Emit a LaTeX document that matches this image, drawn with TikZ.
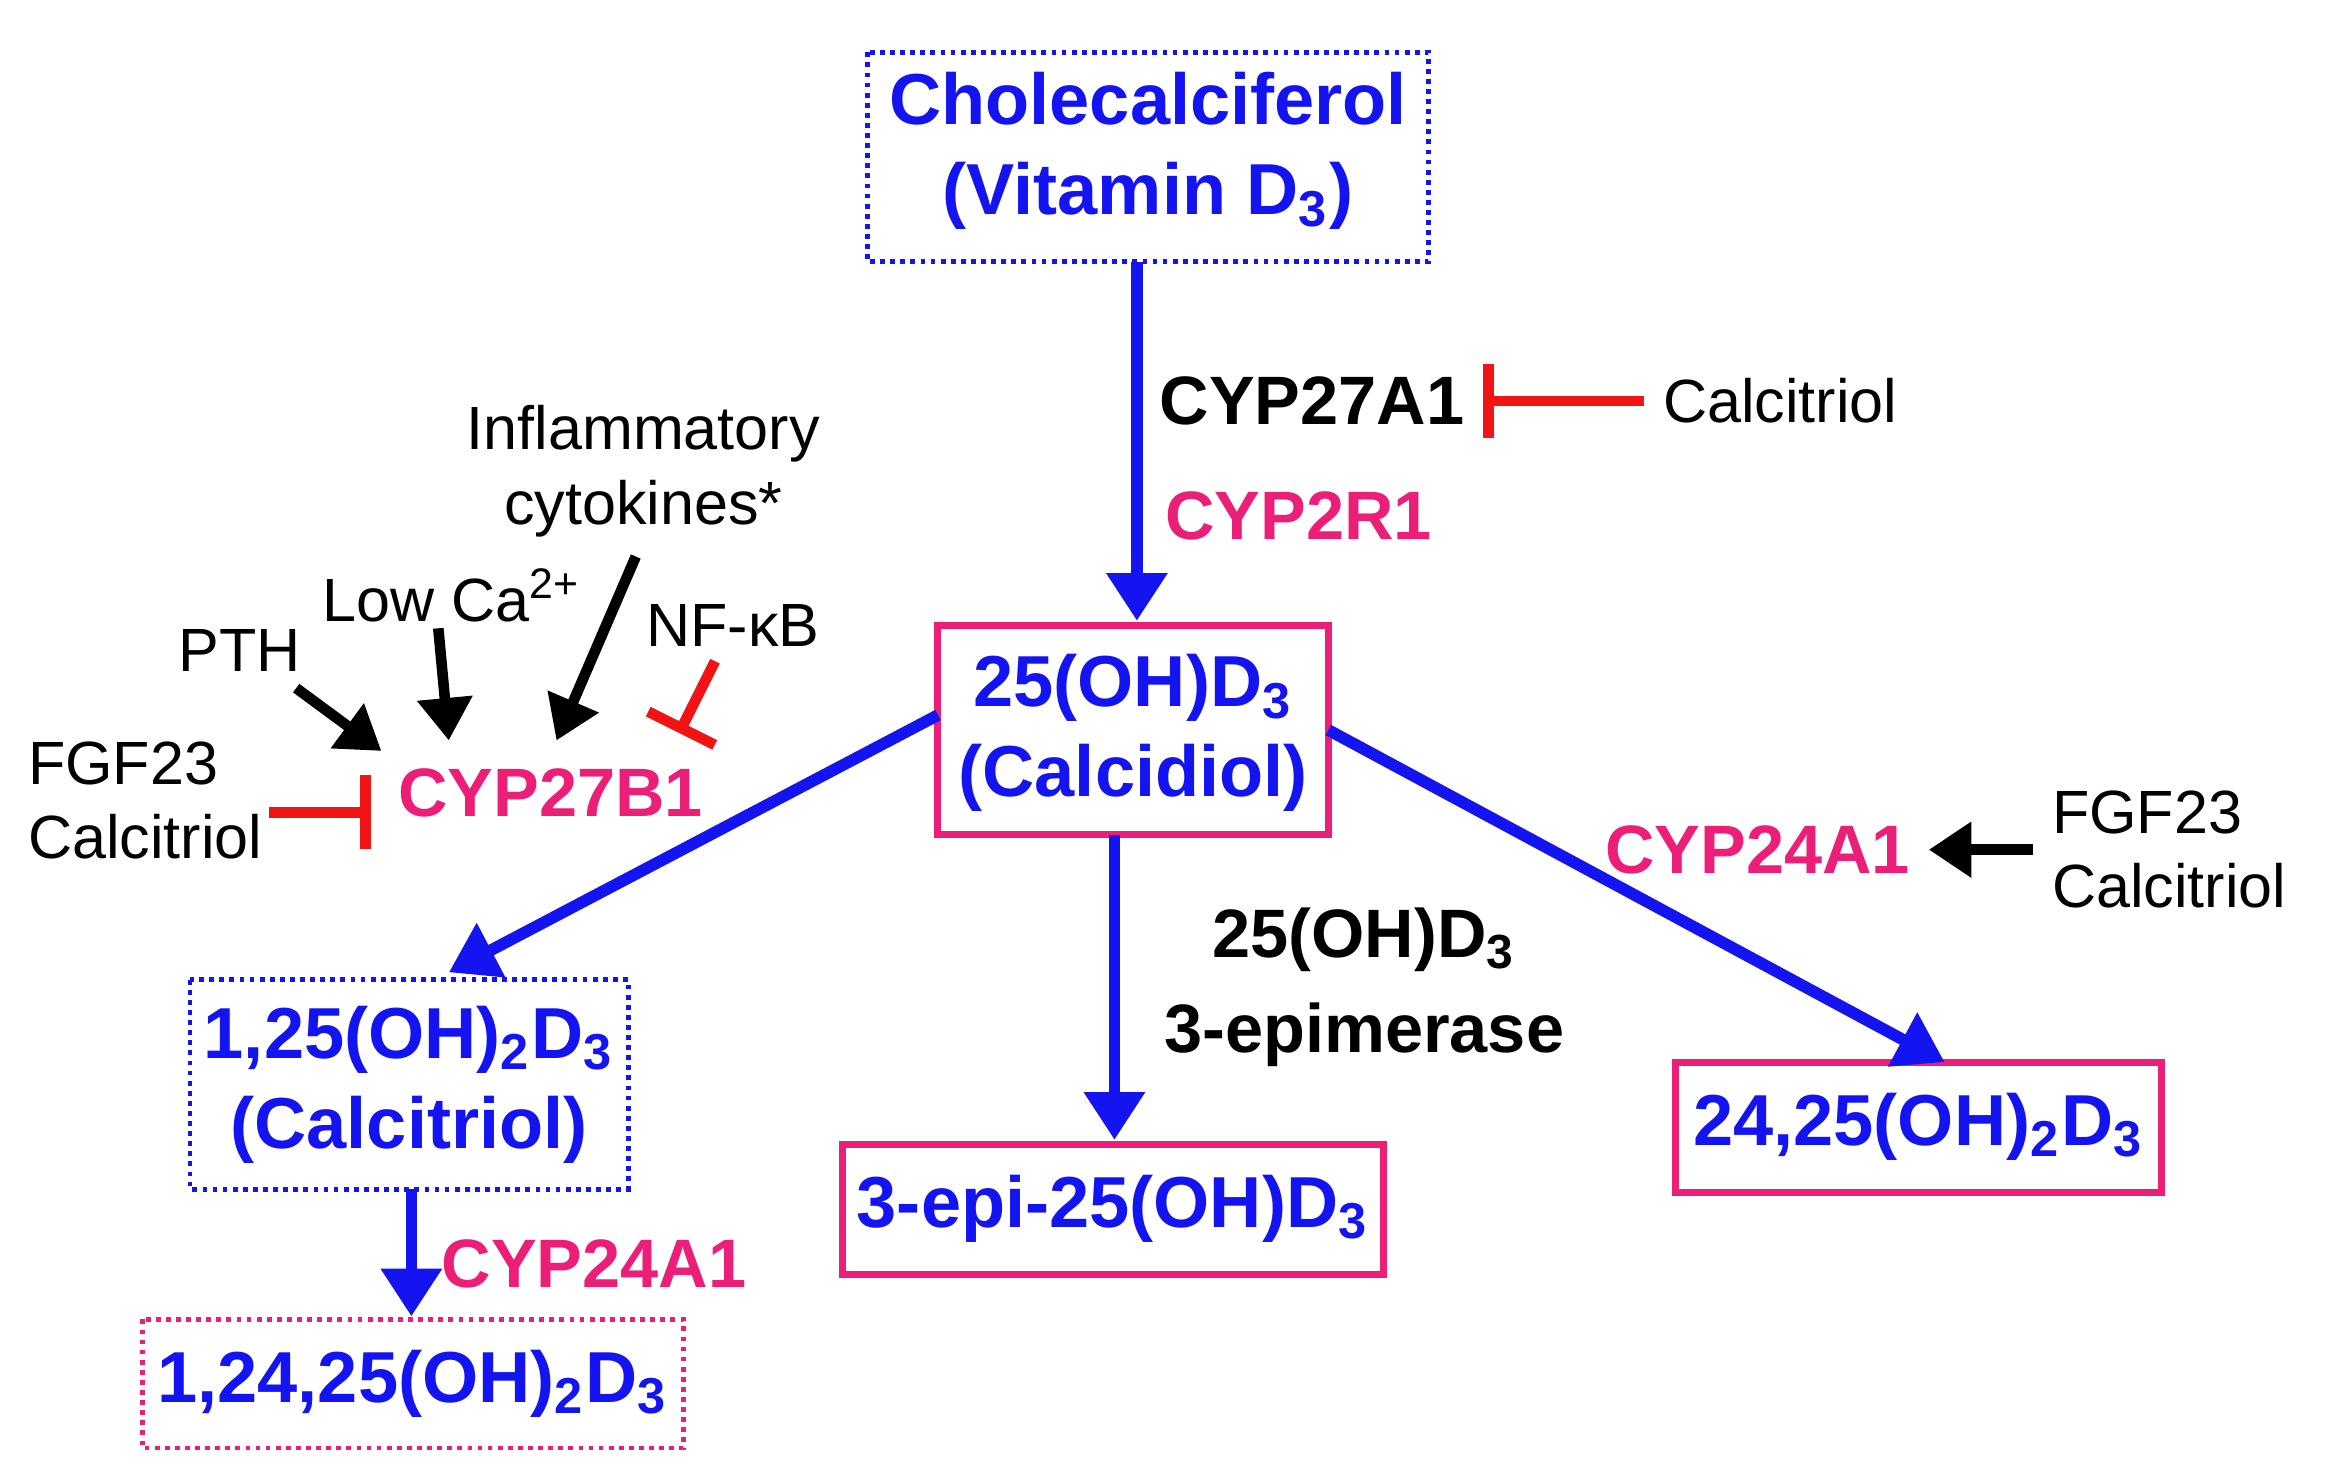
\documentclass[tikz,border=0pt]{standalone}
\usepackage{fontspec}
\setmainfont{Liberation Sans}
\usetikzlibrary{arrows.meta}
\definecolor{vb}{RGB}{20,20,240}
\definecolor{pk}{RGB}{235,30,120}
\definecolor{rd}{RGB}{240,20,20}
\newcommand{\sbs}[1]{\textsubscript{#1}}
\begin{document}
\begin{tikzpicture}[x=0.99cm,y=0.99cm,
 mol/.style={font=\fontsize{13.6}{17}\selectfont\bfseries,text=vb,align=center},
 enz/.style={font=\fontsize{12.9}{16}\selectfont\bfseries,text=pk},
 enzk/.style={font=\fontsize{12.9}{16}\selectfont\bfseries,text=black,align=center},
 reg/.style={font=\fontsize{11.5}{14}\selectfont,align=center},
 bx/.style={draw=pk,line width=1.3pt},
 dbx/.style={draw=vb,densely dotted,line width=0.9pt},
 flow/.style={draw=vb,line width=2.2pt,-{Triangle[length=9pt,width=11pt]}},
 act/.style={draw=black,line width=2pt,-{Triangle[length=8pt,width=10pt]}},
 inh/.style={draw=rd,line width=2pt,-{Bar[width=14pt]}}]
\useasboundingbox (0,0) rectangle (15.656,-9.92);
% boxes
\draw[dbx] (5.80,-0.35) rectangle (9.55,-1.75);
\node[mol] (chol) at (7.675,-1.01) {Cholecalciferol\\(Vitamin D\sbs{3})};
\coordinate (cholb) at (7.60,-1.75);
\draw[bx] (6.27,-4.18) rectangle (8.88,-5.58);
\node[mol] (calcidiol) at (7.575,-4.90) {25(OH)D\sbs{3}\\(Calcidiol)};
\coordinate (c25t) at (7.60,-4.15);
\coordinate (c25l) at (6.27,-4.78);
\coordinate (c25b) at (7.45,-5.58);
\coordinate (c25r) at (8.88,-4.88);
\draw[dbx] (1.27,-6.55) rectangle (4.20,-7.95);
\node[mol] (calcitriol) at (2.735,-7.25) {1,25(OH)\sbs{2}D\sbs{3}\\(Calcitriol)};
\coordinate (c125t) at (3.00,-6.50);
\coordinate (c125b) at (2.75,-7.95);
\draw[draw=pk,densely dotted,line width=0.9pt] (0.95,-8.82) rectangle (4.57,-9.68);
\node[mol] (m12425) at (2.76,-9.25) {1,24,25(OH)\sbs{2}D\sbs{3}};
\coordinate (c12425t) at (2.75,-8.80);
\draw[bx] (5.63,-7.65) rectangle (9.25,-8.52);
\node[mol] (epi) at (7.44,-8.08) {3-epi-25(OH)D\sbs{3}};
\coordinate (epit) at (7.45,-7.62);
\draw[bx] (11.20,-7.10) rectangle (14.45,-7.97);
\node[mol] (m2425) at (12.825,-7.53) {24,25(OH)\sbs{2}D\sbs{3}};
\coordinate (m2425t) at (13.00,-7.10);
% main flows
\draw[flow] (cholb) -- (c25t);
\draw[flow] (c25l) -- (c125t);
\draw[flow] (c25b) -- (epit);
\draw[flow] (c25r) -- (m2425t);
\draw[flow] (c125b) -- (c12425t);
% enzymes
\node[enzk] (a1) at (8.77,-2.68) {CYP27A1};
\node[enz] (r1) at (8.68,-3.45) {CYP2R1};
\node[reg] (ctA) at (11.90,-2.68) {Calcitriol};
\draw[inh] (ctA.west) -- (a1.east);
\node[enzk] (epim) at (9.12,-6.60) {25(OH)D\sbs{3}\\[2pt]3-epimerase};
\node[enz] (b24) at (3.97,-8.45) {CYP24A1};
\node[enz] (r24) at (11.75,-5.68) {CYP24A1};
\node[reg,align=left] (fgfr) at (14.50,-5.68) {FGF23\\Calcitriol};
\draw[act] (fgfr.west) -- (r24.east);
\node[enz] (b1) at (3.68,-5.30) {CYP27B1};
\node[reg,align=left] (fgfl) at (0.97,-5.35) {FGF23\\Calcitriol};
\coordinate (fgfle) at (1.80,-5.43);
\coordinate (b1w) at (2.48,-5.43);
\draw[inh] (fgfle) -- (b1w);
\node[reg] (pth) at (1.60,-4.35) {PTH};
\draw[act] (1.98,-4.60) -- (2.55,-5.02);
\node[reg] (lowca) at (3.02,-3.98) {Low Ca\textsuperscript{2+}};
\draw[act] (2.93,-4.20) -- (3.00,-4.95);
\node[reg] (infl) at (4.30,-3.15) {Inflammatory\\cytokines*};
\draw[act] (4.25,-3.72) -- (3.72,-4.95);
\node[reg] (nfkb) at (4.90,-4.18) {NF-κB};
\draw[inh] (4.78,-4.42) -- (4.54,-4.90);
\end{tikzpicture}
\end{document}
